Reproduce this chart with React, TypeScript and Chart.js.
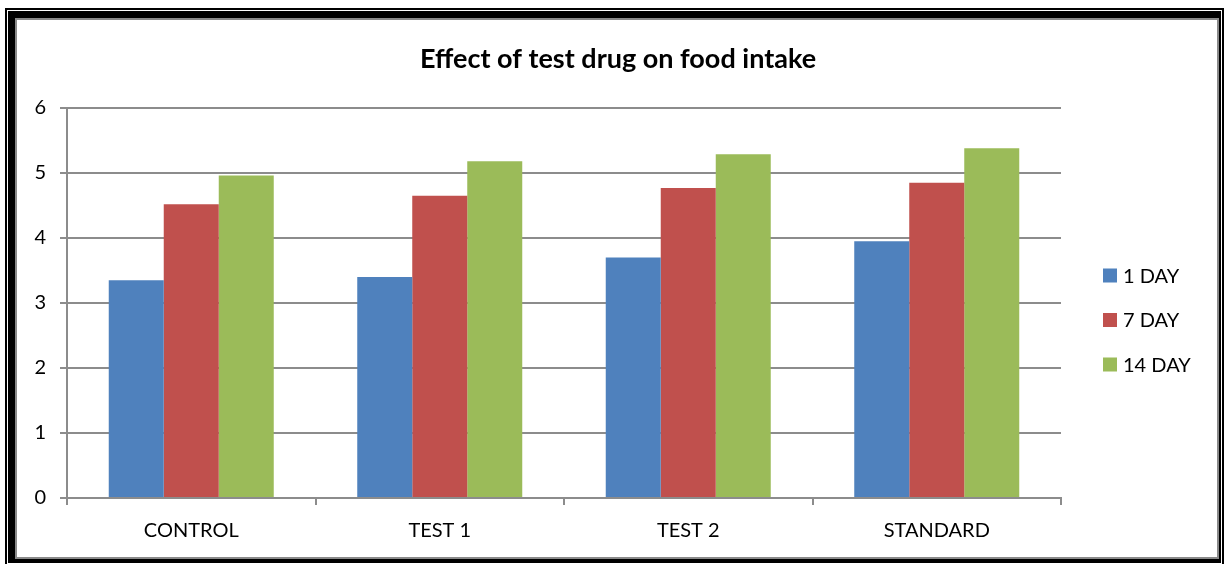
import React, { useEffect, useRef } from "react";
import { Chart, registerables } from "chart.js";

Chart.register(...registerables);

const chartTitle = "Effect of test drug on food intake";
const groups = ["CONTROL", "TEST 1", "TEST 2", "STANDARD"];
const seriesNames = ["1 DAY", "7 DAY", "14 DAY"];
const day1 = [3.35, 3.4, 3.7, 3.95];
const day7 = [4.52, 4.65, 4.77, 4.85];
const day14 = [4.96, 5.18, 5.29, 5.38];
const seriesColors = ["#4F81BD", "#C0504D", "#9BBB59"];
const yTicks = [0, 1, 2, 3, 4, 5, 6];

const W = 1226;
const H = 564;
const FONT = "Lato, 'Liberation Sans', sans-serif";
const GRID = "#8c8c8c";

// Title centred over the whole frame, legend to the right of the plot.
const frameDecor = {
  id: "frameDecor",
  afterDraw(chart: any) {
    const ctx = chart.ctx;
    ctx.save();
    ctx.font = `bold 27px ${FONT}`;
    ctx.fillStyle = "#000";
    ctx.textAlign = "center";
    ctx.textBaseline = "middle";
    ctx.fillText(chartTitle, 618, 59);

    const sets = chart.data.datasets;
    const rowGap = 44.5;
    const midY = 320;
    const boxX = 1103;
    const box = 14;
    ctx.font = `20px ${FONT}`;
    ctx.textAlign = "left";
    sets.forEach((ds: any, i: number) => {
      const y = midY + (i - (sets.length - 1) / 2) * rowGap;
      ctx.fillStyle = ds.backgroundColor;
      ctx.fillRect(boxX, y - box / 2, box, box);
      ctx.fillStyle = "#000";
      ctx.fillText(ds.label, boxX + box + 6, y + 1);
    });
    ctx.restore();
  },
};

export default function App() {
  const ref = useRef<HTMLCanvasElement>(null);

  useEffect(() => {
    if (!ref.current) return;
    const values = [day1, day7, day14];
    const chart = new Chart(ref.current, {
      type: "bar",
      data: {
        labels: groups,
        datasets: seriesNames.map((name, i) => ({
          label: name,
          data: values[i],
          backgroundColor: seriesColors[i],
          borderWidth: 0,
          barPercentage: 1,
          categoryPercentage: 0.664,
        })),
      },
      options: {
        animation: false,
        responsive: false,
        devicePixelRatio: 1,
        layout: { padding: { left: 20, right: 165, top: 108, bottom: 20 } },
        plugins: {
          legend: { display: false },
          tooltip: { enabled: false },
          title: { display: false },
        },
        scales: {
          x: {
            grid: {
              offset: true,
              drawOnChartArea: false,
              drawTicks: true,
              tickLength: 7,
              color: GRID,
              lineWidth: 2,
            },
            border: { color: GRID, width: 2 },
            ticks: {
              color: "#000",
              font: { family: FONT, size: 20 },
              padding: 14,
            },
            afterFit: (scale: any) => {
              scale.height = H - 20 - 498;
            },
          },
          y: {
            min: 0,
            max: 6,
            afterBuildTicks: (scale: any) => {
              scale.ticks = yTicks.map((v) => ({ value: v }));
            },
            grid: {
              color: GRID,
              lineWidth: 2,
              drawTicks: true,
              tickLength: 7,
            },
            border: { color: GRID, width: 2 },
            ticks: {
              color: "#000",
              font: { family: FONT, size: 20 },
              padding: 14,
            },
            afterFit: (scale: any) => {
              scale.width = 67 - 20;
            },
          },
        },
      },
      plugins: [frameDecor],
    });
    return () => chart.destroy();
  }, []);

  return (
    <div style={{ position: "fixed", left: 0, top: 0, width: W, height: H, background: "#fff", overflow: "hidden" }}>
      <canvas ref={ref} width={W} height={H} style={{ position: "absolute", left: 0, top: 0, width: W, height: H }} />
      {/* thin outer rule */}
      <div
        style={{
          position: "absolute",
          left: 5,
          top: 8,
          width: 1224 - 5,
          height: 570 - 8,
          border: "2px solid #000",
          boxSizing: "border-box",
          pointerEvents: "none",
        }}
      />
      {/* heavy inner frame */}
      <div
        style={{
          position: "absolute",
          left: 8,
          top: 11,
          width: 1221 - 8,
          height: 563 - 11,
          borderStyle: "solid",
          borderColor: "#000",
          borderWidth: "7px 2px 4px 7px",
          boxSizing: "border-box",
          pointerEvents: "none",
        }}
      >
        <div
          style={{
            position: "absolute",
            inset: 0,
            border: "2px solid #8a8a8a",
            pointerEvents: "none",
          }}
        />
      </div>
    </div>
  );
}
